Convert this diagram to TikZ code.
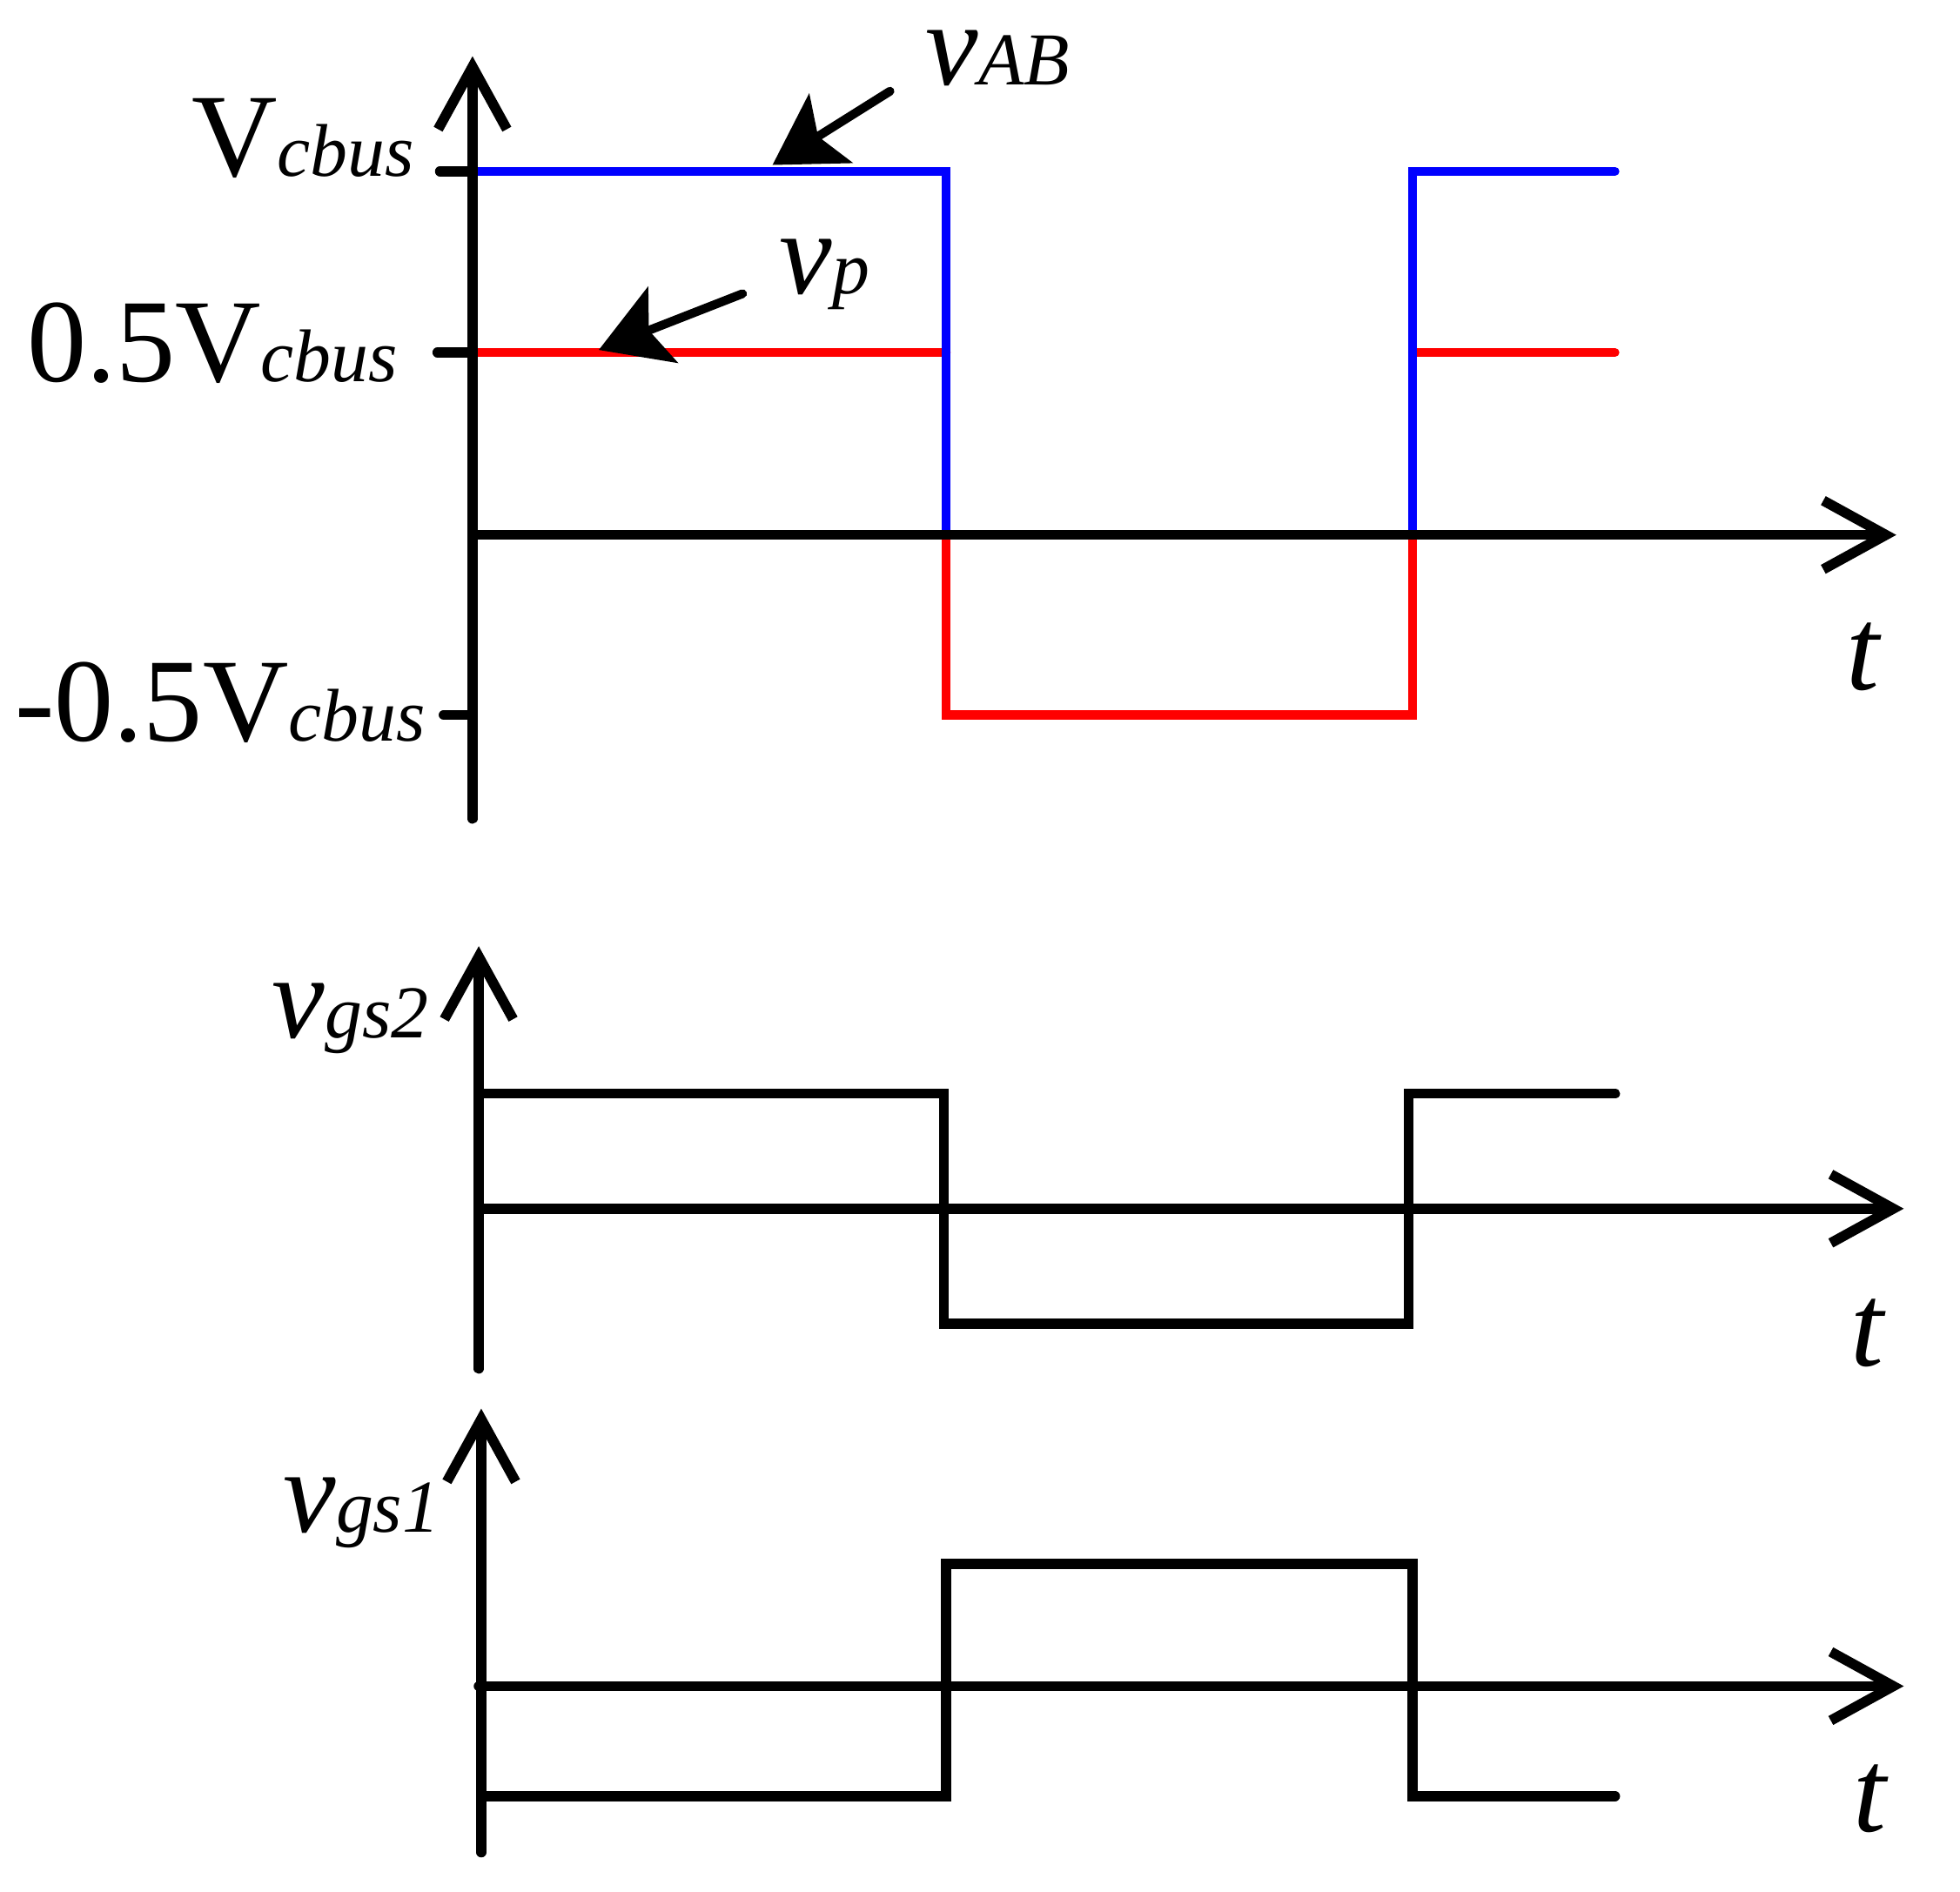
\documentclass[tikz,border=0pt]{standalone}
\usepackage{fontspec}
\setmainfont{Liberation Serif}
\usetikzlibrary{arrows.meta}
\newcommand{\sig}[2]{#1{\fontsize{17}{20}\selectfont\itshape #2}}

\begin{document}
\begin{tikzpicture}[
	axis/.style={line width=2.3pt, line cap=round, -{Straight Barb[length=5mm,width=5.5mm]}},
	wave/.style={line width=2.3pt, line cap=round},
	vab/.style={line width=2pt, line cap=round, blue},
	vp/.style={line width=2pt, line cap=round, red},
	pointer/.style={line width=2pt, line cap=round, -{Stealth[length=5.5mm,width=6.5mm,inset=1.2mm]}},
	lbl/.style={inner sep=0pt, font=\fontsize{27}{30}\selectfont}]
	\useasboundingbox (0, 0) rectangle (15.68, 15.13);
	%%%%% TOP %%%%%
	\draw[vp] (3.78, 12.31) -- (7.57, 12.31);
	\draw[vp] (7.57, 10.85) -- (7.57, 9.41) -- (11.30, 9.41) -- (11.30, 10.85);
	\draw[vp] (11.30, 12.31) -- (12.92, 12.31);
	\draw[vab] (3.78, 13.76) -- (7.57, 13.76) -- (7.57, 10.85);
	\draw[vab] (11.30, 10.85) -- (11.30, 13.76) -- (12.92, 13.76);
	
	\draw[axis] (3.78, 8.58) -- (3.78, 14.68);
	\draw[axis] (3.78, 10.85) -- (15.17, 10.85);
	\draw[wave] (3.52, 13.76) -- (3.78, 13.76);
	\draw[wave] (3.50, 12.31) -- (3.78, 12.31);
	\draw[wave] (3.55, 9.41) -- (3.78, 9.41);
	
	\node[lbl, anchor=base east] (vc) at (3.32, 13.72) {\sig{V}{cbus}};
	\node[lbl, anchor=base east] (vh) at (3.19, 12.08) {\sig{0.5V}{cbus}};
	\node[lbl, anchor=base east] (vn) at (3.41, 9.20) {\sig{-0.5V}{cbus}};
	\node[lbl, anchor=base west] (vabl) at (7.40, 14.45) {\sig{\textit{v}}{AB}};
	\node[lbl, anchor=base west] (vpl) at (6.23, 12.78) {\sig{\textit{v}}{p}};
	\node[lbl, anchor=base] (t1) at (14.91, 9.61) {\textit{t}};
	
	\coordinate (ab0) at (7.12, 14.40);
	\coordinate (ab1) at (6.18, 13.81);
	\draw[pointer] (ab0) -- (ab1);
	\coordinate (p0) at (5.94, 12.78);
	\coordinate (p1) at (4.79, 12.33);
	\draw[pointer] (p0) -- (p1);
	
	%%%%% MIDDLE %%%%%
	\draw[axis] (3.83, 4.18) -- (3.83, 7.56);
	\draw[axis] (3.83, 5.46) -- (15.23, 5.46);
	\draw[wave] (3.83, 6.38) -- (7.55, 6.38) -- (7.55, 4.54) -- (11.27, 4.54) -- (11.27, 6.38) -- (12.92, 6.38);
	\node[lbl, anchor=base west] (vg2) at (2.17, 6.83) {\sig{\textit{v}}{gs2}};
	\node[lbl, anchor=base] (t2) at (14.95, 4.20) {\textit{t}};
	
	%%%%% BOTTOM %%%%%
	\draw[axis] (3.85, 0.31) -- (3.85, 3.86);
	\draw[axis] (3.83, 1.64) -- (15.23, 1.64);
	\draw[wave] (3.85, 0.76) -- (7.57, 0.76) -- (7.57, 2.62) -- (11.30, 2.62) -- (11.30, 0.76) -- (12.92, 0.76);
	\node[lbl, anchor=base west] (vg1) at (2.26, 2.87) {\sig{\textit{v}}{gs1}};
	\node[lbl, anchor=base] (t3) at (14.97, 0.48) {\textit{t}};
\end{tikzpicture}
\end{document}
